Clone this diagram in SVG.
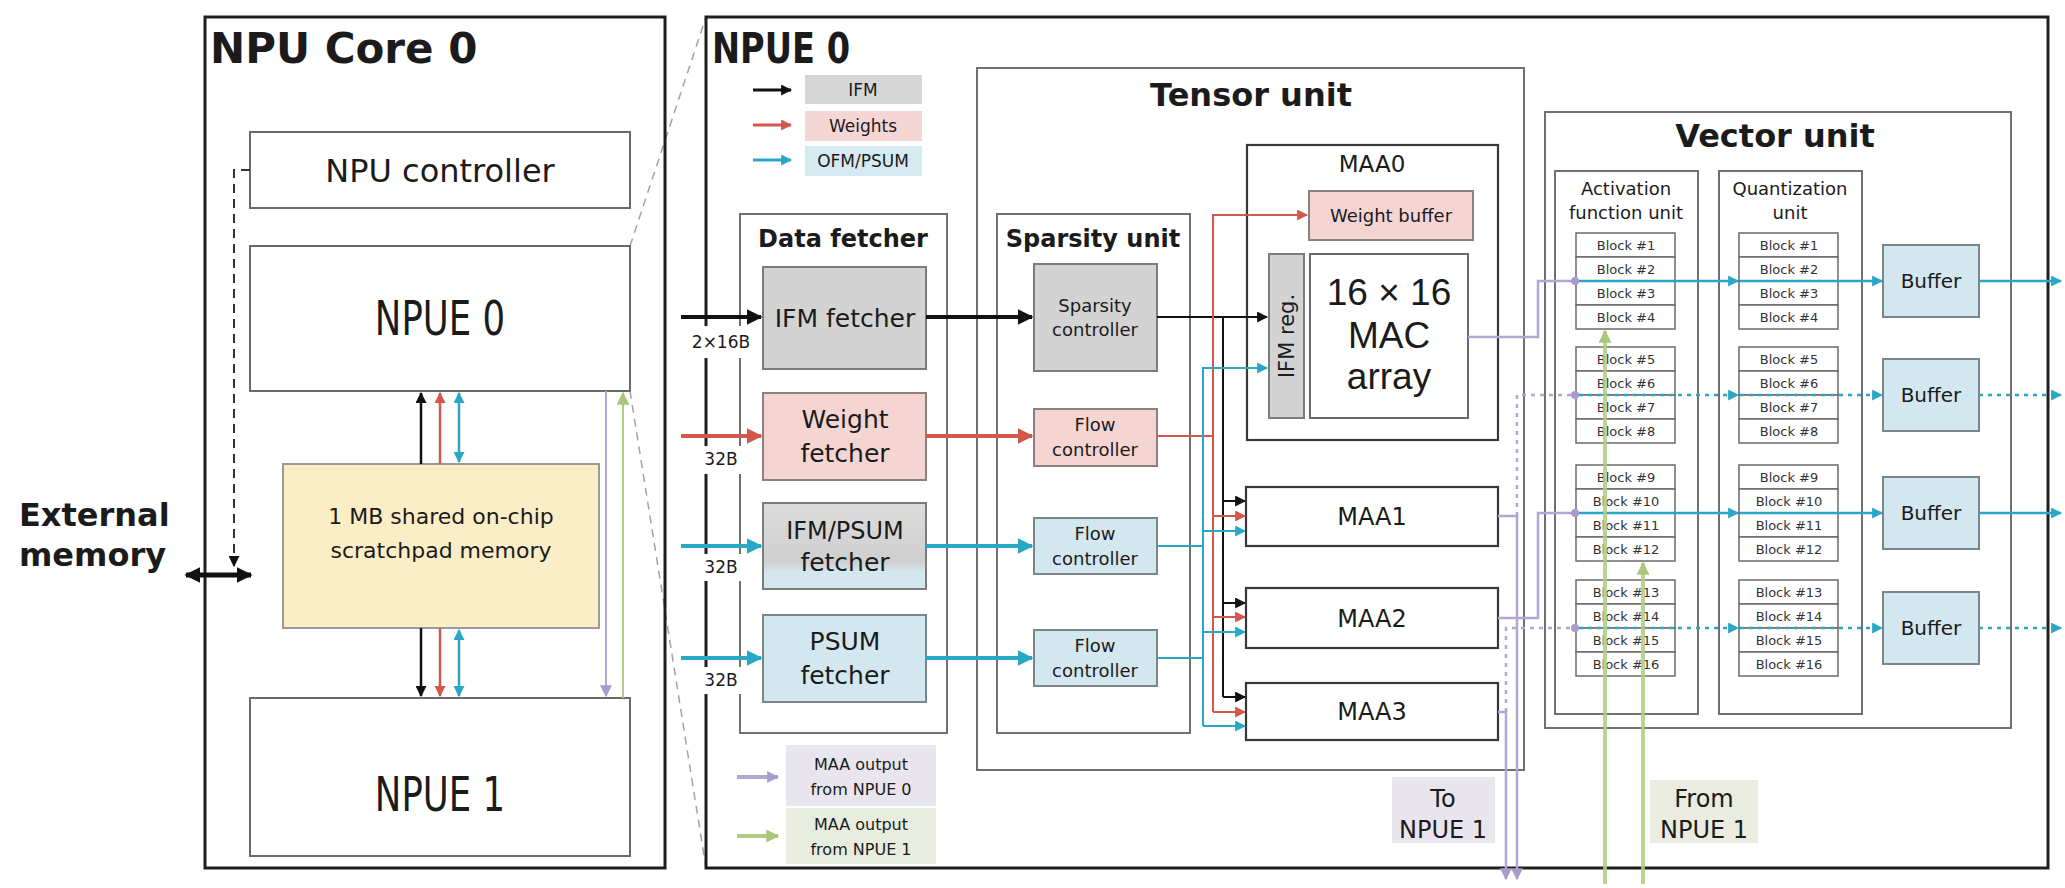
<svg xmlns="http://www.w3.org/2000/svg" width="2065" height="888" viewBox="0 0 2065 888">
<defs>
<style>
text{font-family:"DejaVu Sans","Liberation Sans",sans-serif;fill:#1b1b1b}
.b{font-weight:bold}
.c{text-anchor:middle}
.outer{fill:none;stroke:#1e1e1e;stroke-width:3}
.frame{fill:none;stroke:#707070;stroke-width:2}
.box{fill:#fff;stroke:#6a6a6a;stroke-width:2}
.maa{fill:#fff;stroke:#383838;stroke-width:2.2}
.gray{fill:#d3d3d3;stroke:#7c7c7c;stroke-width:2}
.pink{fill:#f5d5d2;stroke:#8c7f7f;stroke-width:2}
.blue{fill:#d3e7f0;stroke:#7b868b;stroke-width:2}
.mix{fill:url(#gMix);stroke:#7c7c7c;stroke-width:2}
.blk{fill:#fff;stroke:#6a6a6a;stroke-width:1.5}
.bt{font-size:13px;text-anchor:middle;fill:#333}
.mask{fill:#fff}
.ln{fill:none}
.k{stroke:#111}
.r{stroke:#d4574c}
.cy{stroke:#2aa6c6}
.pu{stroke:#b2a6d3}
.gr{stroke:#b0cb84}
.dot{stroke-dasharray:4 5}
.zoom{fill:none;stroke:#a3a3a3;stroke-width:1.5;stroke-dasharray:8 6}
</style>
<linearGradient id="gMix" x1="0" y1="0" x2="0" y2="1">
<stop offset="0" stop-color="#dcdcdc"/>
<stop offset="0.68" stop-color="#cfcfcf"/>
<stop offset="0.8" stop-color="#d4e7ef"/>
<stop offset="1" stop-color="#d4e7ef"/>
</linearGradient>
<marker id="kL" viewBox="0 0 10 10" refX="9" refY="5" markerWidth="16" markerHeight="16" markerUnits="userSpaceOnUse" orient="auto-start-reverse"><path d="M0,0L10,5L0,10z" fill="#111"/></marker>
<marker id="kS" viewBox="0 0 10 10" refX="9" refY="5" markerWidth="11" markerHeight="11" markerUnits="userSpaceOnUse" orient="auto-start-reverse"><path d="M0,0L10,5L0,10z" fill="#111"/></marker>
<marker id="rL" viewBox="0 0 10 10" refX="9" refY="5" markerWidth="16" markerHeight="16" markerUnits="userSpaceOnUse" orient="auto-start-reverse"><path d="M0,0L10,5L0,10z" fill="#d4574c"/></marker>
<marker id="rS" viewBox="0 0 10 10" refX="9" refY="5" markerWidth="11" markerHeight="11" markerUnits="userSpaceOnUse" orient="auto-start-reverse"><path d="M0,0L10,5L0,10z" fill="#d4574c"/></marker>
<marker id="cL" viewBox="0 0 10 10" refX="9" refY="5" markerWidth="16" markerHeight="16" markerUnits="userSpaceOnUse" orient="auto-start-reverse"><path d="M0,0L10,5L0,10z" fill="#2aa6c6"/></marker>
<marker id="cS" viewBox="0 0 10 10" refX="9" refY="5" markerWidth="11" markerHeight="11" markerUnits="userSpaceOnUse" orient="auto-start-reverse"><path d="M0,0L10,5L0,10z" fill="#2aa6c6"/></marker>
<marker id="pS" viewBox="0 0 10 10" refX="9" refY="5" markerWidth="12" markerHeight="12" markerUnits="userSpaceOnUse" orient="auto-start-reverse"><path d="M0,0L10,5L0,10z" fill="#a99ccc"/></marker>
<marker id="gS" viewBox="0 0 10 10" refX="9" refY="5" markerWidth="13" markerHeight="13" markerUnits="userSpaceOnUse" orient="auto-start-reverse"><path d="M0,0L10,5L0,10z" fill="#a9c77c"/></marker>
<marker id="pDot" viewBox="0 0 10 10" refX="5" refY="5" markerWidth="8" markerHeight="8" markerUnits="userSpaceOnUse"><circle cx="5" cy="5" r="5" fill="#a99ccc"/></marker>
</defs>
<rect width="2065" height="888" fill="#fff"/>

<!-- NPU core on the left -->
<g id="npu-core-0">
<path class="zoom" d="M630,246L706,17M630,391L706,868"/>
<rect class="outer" x="205" y="17" width="460" height="851"/>
<text class="b" x="210" y="63" font-size="42">NPU Core 0</text>
</g>
<g id="npu-controller">
<rect class="box" x="250" y="132" width="380" height="76"/>
<text class="c" x="440" y="182" font-size="32">NPU controller</text>
</g>
<g id="npue0-mini">
<rect class="box" x="250" y="246" width="380" height="145"/>
<text class="c" font-size="48" transform="translate(440,335) scale(0.74,1)">NPUE 0</text>
</g>
<g id="scratchpad">
<rect x="283" y="464" width="316" height="164" fill="#fbedc6" stroke="#9a9a9a" stroke-width="2"/>
<text class="c" x="441" y="524" font-size="22">1 MB shared on-chip</text>
<text class="c" x="441" y="558" font-size="22">scratchpad memory</text>
</g>
<g id="npue1-mini">
<rect class="box" x="250" y="698" width="380" height="158"/>
<text class="c" font-size="48" transform="translate(440,811) scale(0.74,1)">NPUE 1</text>
</g>
<g id="external-memory">
<text class="b" x="19" y="526" font-size="32">External</text>
<text class="b" x="19" y="566" font-size="32">memory</text>
</g>

<!-- NPUE 0 detail -->
<g id="npue-0">
<rect class="outer" x="706" y="17" width="1342" height="851"/>
<text class="b" font-size="42" transform="translate(712,63) scale(0.8,1)">NPUE 0</text>
</g>
<g id="legend-top">
<rect x="805" y="75" width="117" height="29" fill="#d6d6d6"/>
<text class="c" x="863" y="96" font-size="17">IFM</text>
<rect x="805" y="111" width="117" height="30" fill="#f5d6d4"/>
<text class="c" x="863" y="132" font-size="17">Weights</text>
<rect x="805" y="146" width="117" height="30" fill="#d6eaf2"/>
<text class="c" x="863" y="167" font-size="17">OFM/PSUM</text>
</g>
<g id="tensor-unit">
<rect class="frame" x="977" y="68" width="547" height="702"/>
<text class="b c" x="1251" y="106" font-size="32">Tensor unit</text>
</g>
<g id="data-fetcher">
<rect class="frame" x="740" y="214" width="207" height="519"/>
<text class="b c" x="843" y="247" font-size="24">Data fetcher</text>
</g>
<g id="sparsity-unit">
<rect class="frame" x="997" y="214" width="193" height="519"/>
<text class="b c" x="1093" y="247" font-size="24">Sparsity unit</text>
</g>
<g id="bus-labels">
<rect class="mask" x="692" y="326" width="62" height="32"/>
<text class="c" x="721" y="348" font-size="17">2×16B</text>
<rect class="mask" x="692" y="446" width="62" height="28"/>
<text class="c" x="721" y="465" font-size="17" fill="#d4574c">32B</text>
<rect class="mask" x="692" y="554" width="62" height="27"/>
<text class="c" x="721" y="573" font-size="17" fill="#2aa6c6">32B</text>
<rect class="mask" x="692" y="667" width="62" height="27"/>
<text class="c" x="721" y="686" font-size="17" fill="#2aa6c6">32B</text>
</g>
<g id="ifm-fetcher">
<rect class="gray" x="763" y="267" width="163" height="102"/>
<text class="c" x="845" y="327" font-size="25">IFM fetcher</text>
</g>
<g id="weight-fetcher">
<rect class="pink" x="763" y="393" width="163" height="87"/>
<text class="c" x="845" y="428" font-size="25">Weight</text>
<text class="c" x="845" y="462" font-size="25">fetcher</text>
</g>
<g id="ifm-psum-fetcher">
<rect class="mix" x="763" y="503" width="163" height="86"/>
<text class="c" x="845" y="539" font-size="24">IFM/PSUM</text>
<text class="c" x="845" y="571" font-size="25">fetcher</text>
</g>
<g id="psum-fetcher">
<rect class="blue" x="763" y="615" width="163" height="87"/>
<text class="c" x="845" y="650" font-size="25">PSUM</text>
<text class="c" x="845" y="684" font-size="25">fetcher</text>
</g>
<g id="sparsity-controller">
<rect class="gray" x="1034" y="264" width="123" height="107"/>
<text class="c" x="1095" y="312" font-size="18">Sparsity</text>
<text class="c" x="1095" y="336" font-size="18">controller</text>
</g>
<g id="flow-controller-w">
<rect class="pink" x="1034" y="409" width="123" height="57"/>
<text class="c" x="1095" y="431" font-size="18">Flow</text>
<text class="c" x="1095" y="456" font-size="18">controller</text>
</g>
<g id="flow-controller-ifm">
<rect class="blue" x="1034" y="518" width="123" height="56"/>
<text class="c" x="1095" y="540" font-size="18">Flow</text>
<text class="c" x="1095" y="565" font-size="18">controller</text>
</g>
<g id="flow-controller-psum">
<rect class="blue" x="1034" y="630" width="123" height="56"/>
<text class="c" x="1095" y="652" font-size="18">Flow</text>
<text class="c" x="1095" y="677" font-size="18">controller</text>
</g>
<g id="maa0">
<rect class="maa" x="1247" y="145" width="251" height="295"/>
<text class="c" x="1372" y="172" font-size="23">MAA0</text>
<rect class="pink" x="1309" y="191" width="164" height="49"/>
<text class="c" x="1391" y="222" font-size="18">Weight buffer</text>
<rect class="gray" x="1269" y="254" width="35" height="164"/>
<text class="c" transform="translate(1294,336) rotate(-90)" font-size="21">IFM reg.</text>
<rect class="box" x="1310" y="254" width="158" height="164"/>
<text class="c" x="1389" y="305" font-size="37" style="font-family:'Liberation Sans',sans-serif">16 × 16</text>
<text class="c" x="1389" y="348" font-size="37" style="font-family:'Liberation Sans',sans-serif">MAC</text>
<text class="c" x="1389" y="389" font-size="37" style="font-family:'Liberation Sans',sans-serif">array</text>
</g>
<g id="maa1">
<rect class="maa" x="1246" y="487" width="252" height="59"/>
<text class="c" x="1372" y="525" font-size="24">MAA1</text>
</g>
<g id="maa2">
<rect class="maa" x="1246" y="588" width="252" height="60"/>
<text class="c" x="1372" y="627" font-size="24">MAA2</text>
</g>
<g id="maa3">
<rect class="maa" x="1246" y="683" width="252" height="57"/>
<text class="c" x="1372" y="720" font-size="24">MAA3</text>
</g>
<g id="vector-unit">
<rect class="frame" x="1545" y="112" width="466" height="616"/>
<text class="b c" x="1775" y="147" font-size="32">Vector unit</text>
</g>
<g id="activation-unit">
<rect class="frame" x="1555" y="171" width="143" height="543"/>
<text class="c" x="1626" y="195" font-size="18">Activation</text>
<text class="c" x="1626" y="219" font-size="18">function unit</text>
<rect class="blk" x="1576" y="233" width="99" height="24"/><text class="bt" x="1626" y="250">Block #1</text>
<rect class="blk" x="1576" y="257" width="99" height="24"/><text class="bt" x="1626" y="274">Block #2</text>
<rect class="blk" x="1576" y="281" width="99" height="24"/><text class="bt" x="1626" y="298">Block #3</text>
<rect class="blk" x="1576" y="305" width="99" height="24"/><text class="bt" x="1626" y="322">Block #4</text>
<rect class="blk" x="1576" y="347" width="99" height="24"/><text class="bt" x="1626" y="364">Block #5</text>
<rect class="blk" x="1576" y="371" width="99" height="24"/><text class="bt" x="1626" y="388">Block #6</text>
<rect class="blk" x="1576" y="395" width="99" height="24"/><text class="bt" x="1626" y="412">Block #7</text>
<rect class="blk" x="1576" y="419" width="99" height="24"/><text class="bt" x="1626" y="436">Block #8</text>
<rect class="blk" x="1576" y="465" width="99" height="24"/><text class="bt" x="1626" y="482">Block #9</text>
<rect class="blk" x="1576" y="489" width="99" height="24"/><text class="bt" x="1626" y="506">Block #10</text>
<rect class="blk" x="1576" y="513" width="99" height="24"/><text class="bt" x="1626" y="530">Block #11</text>
<rect class="blk" x="1576" y="537" width="99" height="24"/><text class="bt" x="1626" y="554">Block #12</text>
<rect class="blk" x="1576" y="580" width="99" height="24"/><text class="bt" x="1626" y="597">Block #13</text>
<rect class="blk" x="1576" y="604" width="99" height="24"/><text class="bt" x="1626" y="621">Block #14</text>
<rect class="blk" x="1576" y="628" width="99" height="24"/><text class="bt" x="1626" y="645">Block #15</text>
<rect class="blk" x="1576" y="652" width="99" height="24"/><text class="bt" x="1626" y="669">Block #16</text>
</g>
<g id="quantization-unit">
<rect class="frame" x="1719" y="171" width="143" height="543"/>
<text class="c" x="1790" y="195" font-size="18">Quantization</text>
<text class="c" x="1790" y="219" font-size="18">unit</text>
<rect class="blk" x="1739" y="233" width="99" height="24"/><text class="bt" x="1789" y="250">Block #1</text>
<rect class="blk" x="1739" y="257" width="99" height="24"/><text class="bt" x="1789" y="274">Block #2</text>
<rect class="blk" x="1739" y="281" width="99" height="24"/><text class="bt" x="1789" y="298">Block #3</text>
<rect class="blk" x="1739" y="305" width="99" height="24"/><text class="bt" x="1789" y="322">Block #4</text>
<rect class="blk" x="1739" y="347" width="99" height="24"/><text class="bt" x="1789" y="364">Block #5</text>
<rect class="blk" x="1739" y="371" width="99" height="24"/><text class="bt" x="1789" y="388">Block #6</text>
<rect class="blk" x="1739" y="395" width="99" height="24"/><text class="bt" x="1789" y="412">Block #7</text>
<rect class="blk" x="1739" y="419" width="99" height="24"/><text class="bt" x="1789" y="436">Block #8</text>
<rect class="blk" x="1739" y="465" width="99" height="24"/><text class="bt" x="1789" y="482">Block #9</text>
<rect class="blk" x="1739" y="489" width="99" height="24"/><text class="bt" x="1789" y="506">Block #10</text>
<rect class="blk" x="1739" y="513" width="99" height="24"/><text class="bt" x="1789" y="530">Block #11</text>
<rect class="blk" x="1739" y="537" width="99" height="24"/><text class="bt" x="1789" y="554">Block #12</text>
<rect class="blk" x="1739" y="580" width="99" height="24"/><text class="bt" x="1789" y="597">Block #13</text>
<rect class="blk" x="1739" y="604" width="99" height="24"/><text class="bt" x="1789" y="621">Block #14</text>
<rect class="blk" x="1739" y="628" width="99" height="24"/><text class="bt" x="1789" y="645">Block #15</text>
<rect class="blk" x="1739" y="652" width="99" height="24"/><text class="bt" x="1789" y="669">Block #16</text>
</g>
<g id="buffer-1"><rect class="blue" x="1883" y="245" width="96" height="72"/><text class="c" x="1931" y="288" font-size="20">Buffer</text></g>
<g id="buffer-2"><rect class="blue" x="1883" y="359" width="96" height="72"/><text class="c" x="1931" y="402" font-size="20">Buffer</text></g>
<g id="buffer-3"><rect class="blue" x="1883" y="477" width="96" height="72"/><text class="c" x="1931" y="520" font-size="20">Buffer</text></g>
<g id="buffer-4"><rect class="blue" x="1883" y="592" width="96" height="72"/><text class="c" x="1931" y="635" font-size="20">Buffer</text></g>
<g id="legend-bottom">
<rect x="786" y="745" width="150" height="61" fill="#e8e5ee"/>
<text class="c" x="861" y="770" font-size="16">MAA output</text>
<text class="c" x="861" y="795" font-size="16">from NPUE 0</text>
<rect x="786" y="808" width="150" height="56" fill="#e8eddf"/>
<text class="c" x="861" y="830" font-size="16">MAA output</text>
<text class="c" x="861" y="855" font-size="16">from NPUE 1</text>
</g>
<g id="to-npue1">
<rect x="1392" y="777" width="103" height="66" fill="#e9e5ef"/>
<text class="c" x="1443" y="807" font-size="24">To</text>
<text class="c" x="1443" y="838" font-size="24">NPUE 1</text>
</g>
<g id="from-npue1">
<rect x="1650" y="780" width="108" height="63" fill="#e9ecdf"/>
<text class="c" x="1704" y="807" font-size="24">From</text>
<text class="c" x="1704" y="838" font-size="24">NPUE 1</text>
</g>

<!-- connectors -->
<g id="connectors" class="ln">
<!-- core level -->
<path d="M250,170H234V566" stroke="#333" stroke-width="2" stroke-dasharray="9 6" marker-end="url(#kS)"/>
<path class="k" d="M186,575H251" stroke-width="5" marker-start="url(#kL)" marker-end="url(#kL)"/>
<path class="k" d="M421,464V393" stroke-width="2.5" marker-end="url(#kS)"/>
<path class="r" d="M440,464V393" stroke-width="2.5" marker-end="url(#rS)"/>
<path class="cy" d="M459,462V393" stroke-width="2.5" marker-start="url(#cS)" marker-end="url(#cS)"/>
<path class="k" d="M421,628V696" stroke-width="2.5" marker-end="url(#kS)"/>
<path class="r" d="M440,628V696" stroke-width="2.5" marker-end="url(#rS)"/>
<path class="cy" d="M459,630V696" stroke-width="2.5" marker-start="url(#cS)" marker-end="url(#cS)"/>
<path class="pu" d="M606,391V696" stroke-width="2" marker-end="url(#pS)"/>
<path class="gr" d="M623,698V393" stroke-width="2" marker-end="url(#gS)"/>
<!-- legend arrows -->
<path class="k" d="M753,90H791" stroke-width="3" marker-end="url(#kS)"/>
<path class="r" d="M753,125H791" stroke-width="3" marker-end="url(#rS)"/>
<path class="cy" d="M753,160H791" stroke-width="3" marker-end="url(#cS)"/>
<path class="pu" d="M737,777H778" stroke-width="4" marker-end="url(#pS)"/>
<path class="gr" d="M737,836H778" stroke-width="4" marker-end="url(#gS)"/>
<!-- memory ports into the fetchers -->
<path class="k" d="M681,317H761" stroke-width="4" marker-end="url(#kL)"/>
<path class="r" d="M681,436H761" stroke-width="4" marker-end="url(#rL)"/>
<path class="cy" d="M681,546H761" stroke-width="4" marker-end="url(#cL)"/>
<path class="cy" d="M681,658H761" stroke-width="4" marker-end="url(#cL)"/>
<!-- fetchers to sparsity unit -->
<path class="k" d="M926,317H1032" stroke-width="4" marker-end="url(#kL)"/>
<path class="r" d="M926,436H1032" stroke-width="4" marker-end="url(#rL)"/>
<path class="cy" d="M926,546H1032" stroke-width="4" marker-end="url(#cL)"/>
<path class="cy" d="M926,658H1032" stroke-width="4" marker-end="url(#cL)"/>
<!-- IFM distribution -->
<path class="k" d="M1157,317H1267" stroke-width="2" marker-end="url(#kS)"/>
<path class="k" d="M1223,317V697" stroke-width="2"/>
<path class="k" d="M1223,501H1245" stroke-width="2" marker-end="url(#kS)"/>
<path class="k" d="M1223,603H1245" stroke-width="2" marker-end="url(#kS)"/>
<path class="k" d="M1223,697H1245" stroke-width="2" marker-end="url(#kS)"/>
<!-- weight distribution -->
<path class="r" d="M1157,436H1213" stroke-width="2"/>
<path class="r" d="M1213,712V215H1307" stroke-width="2" marker-end="url(#rS)"/>
<path class="r" d="M1213,516H1245" stroke-width="2" marker-end="url(#rS)"/>
<path class="r" d="M1213,617H1245" stroke-width="2" marker-end="url(#rS)"/>
<path class="r" d="M1213,712H1245" stroke-width="2" marker-end="url(#rS)"/>
<!-- psum distribution -->
<path class="cy" d="M1157,546H1203" stroke-width="2"/>
<path class="cy" d="M1157,658H1203" stroke-width="2"/>
<path class="cy" d="M1203,726V368H1267" stroke-width="2" marker-end="url(#cS)"/>
<path class="cy" d="M1203,531H1245" stroke-width="2" marker-end="url(#cS)"/>
<path class="cy" d="M1203,632H1245" stroke-width="2" marker-end="url(#cS)"/>
<path class="cy" d="M1203,726H1245" stroke-width="2" marker-end="url(#cS)"/>
<!-- MAA outputs -->
<path class="pu" d="M1468,337H1538V281H1575" stroke-width="2.5" marker-end="url(#pDot)"/>
<path class="pu" d="M1498,516H1517V879" stroke-width="2.5" marker-end="url(#pS)"/>
<path class="pu dot" d="M1517,516V395H1575" stroke-width="2.5" marker-end="url(#pDot)"/>
<path class="pu" d="M1498,618H1538V513H1575" stroke-width="2.5" marker-end="url(#pDot)"/>
<path class="pu" d="M1498,712H1506V879" stroke-width="2.5" marker-end="url(#pS)"/>
<path class="pu dot" d="M1506,712V628H1575" stroke-width="2.5" marker-end="url(#pDot)"/>
<!-- vector unit lanes -->
<path class="cy" d="M1579,281H1738" stroke-width="2.5" marker-end="url(#cS)"/>
<path class="cy" d="M1740,281H1882" stroke-width="2.5" marker-end="url(#cS)"/>
<path class="cy" d="M1979,281H2061" stroke-width="2.5" marker-end="url(#cS)"/>
<path class="cy dot" d="M1579,395H1738" stroke-width="2.5" marker-end="url(#cS)"/>
<path class="cy dot" d="M1740,395H1882" stroke-width="2.5" marker-end="url(#cS)"/>
<path class="cy dot" d="M1979,395H2061" stroke-width="2.5" marker-end="url(#cS)"/>
<path class="cy" d="M1579,513H1738" stroke-width="2.5" marker-end="url(#cS)"/>
<path class="cy" d="M1740,513H1882" stroke-width="2.5" marker-end="url(#cS)"/>
<path class="cy" d="M1979,513H2061" stroke-width="2.5" marker-end="url(#cS)"/>
<path class="cy dot" d="M1579,628H1738" stroke-width="2.5" marker-end="url(#cS)"/>
<path class="cy dot" d="M1740,628H1882" stroke-width="2.5" marker-end="url(#cS)"/>
<path class="cy dot" d="M1979,628H2061" stroke-width="2.5" marker-end="url(#cS)"/>
<!-- inputs from NPUE 1 -->
<path class="gr" d="M1605,884V331" stroke-width="4" stroke-opacity="0.85" marker-end="url(#gS)"/>
<path class="gr" d="M1643,884V563" stroke-width="4" stroke-opacity="0.85" marker-end="url(#gS)"/>
</g>
</svg>
